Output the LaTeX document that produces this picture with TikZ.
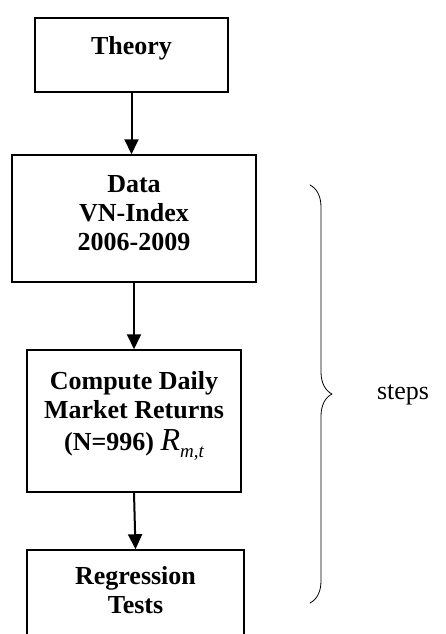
\documentclass[tikz,border=0pt]{standalone}
\usepackage{fontspec}
\setmainfont{Liberation Serif}
\usetikzlibrary{arrows.meta,decorations.pathreplacing}

\begin{document}
\begin{tikzpicture}[x=1pt,y=-1pt]
  \tikzstyle{myline}=[black, line cap=round, line join=round];
  \tikzstyle{stepbox}=[draw, line width=1.5pt, align=center, inner sep=0pt,
    font=\fontsize{26}{29}\selectfont\bfseries];
  \tikzstyle{flow}=[myline, line width=2pt, -{Triangle[width=14pt,length=15pt]}];
  \useasboundingbox (0,0) rectangle (446,634);
  %
  % boxes of the chain
  \node[stepbox, minimum width=193pt, minimum height=74pt, text depth=19pt]
    (theory) at (131.5,55) {Theory};
  \node[stepbox, minimum width=244pt, minimum height=127pt, text depth=12pt]
    (data) at (134,218.5) {Data\\VN-Index\\2006-2009};
  \node[stepbox, minimum width=214pt, minimum height=142pt, text depth=20pt]
    (returns) at (134,421) {Compute Daily\\Market Returns\\[3pt](N=996)
    {\fontsize{32}{32}\selectfont\mdseries\itshape R}\raisebox{-7pt}{\fontsize{19}{19}\selectfont\mdseries\itshape m,t}};
  \node[stepbox, minimum width=217pt, minimum height=110pt, text depth=30pt]
    (regression) at (135.5,605) {Regression\\Tests};
  %
  % arrows
  \draw[flow] (theory.south) -- (theory.south |- data.north);
  \draw[flow] (data.south) -- (data.south |- returns.north);
  \draw[flow] (returns.south) -- (regression.north);
  %
  % brace and its label
  \coordinate (braceTop) at (310,185);
  \coordinate (braceBot) at (310,603);
  \draw[myline, line width=0.8pt, decorate, decoration={brace, amplitude=22pt}]
    (braceTop) -- (braceBot);
  \node[font=\fontsize{26}{30}\selectfont] (steps) at (403,395) {steps};
\end{tikzpicture}
\end{document}
